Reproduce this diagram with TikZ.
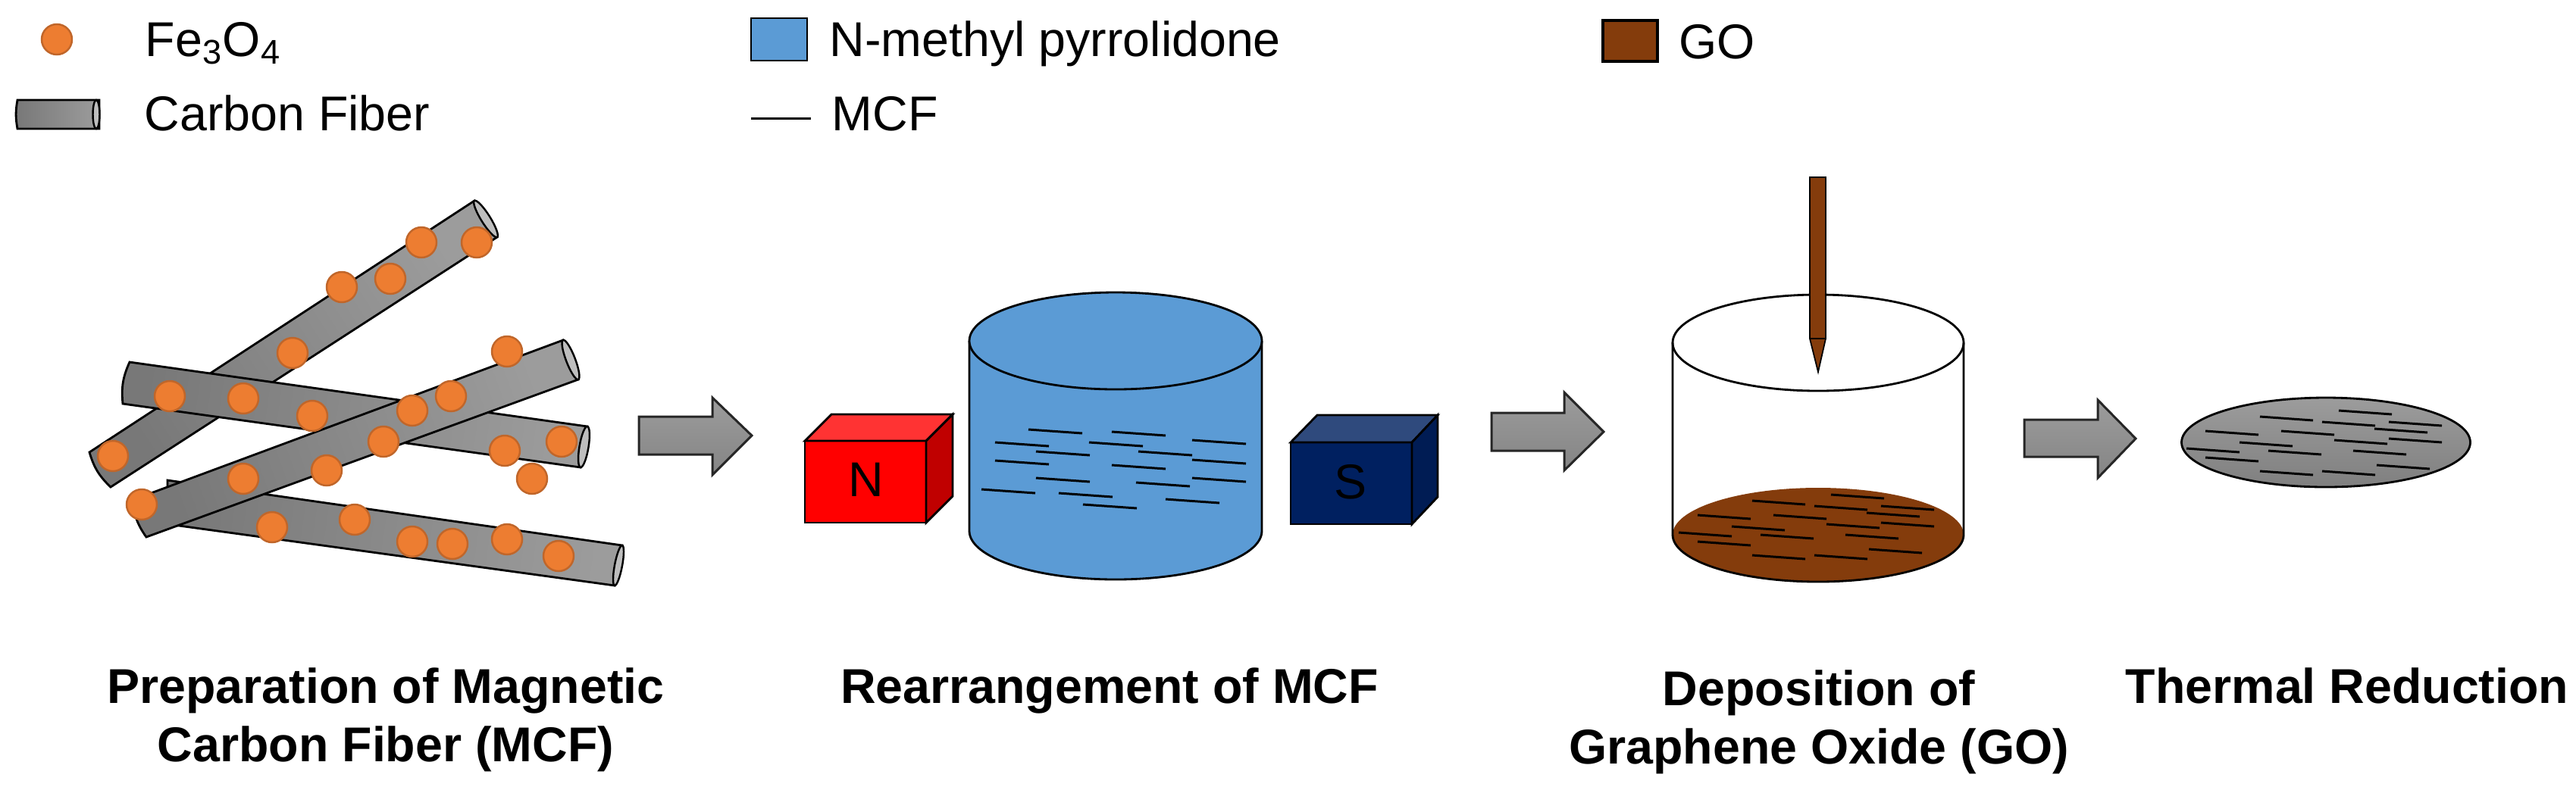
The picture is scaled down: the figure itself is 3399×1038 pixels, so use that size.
\documentclass[tikz,border=0pt]{standalone}
\usepackage{fontspec}
\setmainfont{Liberation Sans}
\definecolor{feorange}{HTML}{ED7D31}
\definecolor{feedge}{HTML}{C0662A}
\definecolor{nmpblue}{HTML}{5B9BD5}
\definecolor{gobrown}{HTML}{843C0C}
\definecolor{fibdark}{HTML}{787878}
\definecolor{fiblight}{HTML}{9C9C9C}
\definecolor{fibend}{HTML}{BEBEBE}
\definecolor{northfront}{HTML}{FF0000}
\definecolor{northtop}{HTML}{FF3333}
\definecolor{northside}{HTML}{C00000}
\definecolor{southfront}{HTML}{002060}
\definecolor{southtop}{HTML}{2F4A7D}
\definecolor{southside}{HTML}{001C54}
\tikzset{
	fe/.style={circle, fill=feorange, draw=feedge, line width=0.7pt, minimum size=0.4cm, inner sep=0pt},
	fibre/.style={draw=black, line width=0.8pt, left color=fibdark, right color=fiblight},
	fibretip/.style={draw=black, line width=0.7pt, fill=fibend},
	flow/.style={draw=black!85, line width=0.85pt, top color=fiblight, bottom color=black!48},
	mcf/.style={draw=black, line width=0.85pt},
	vessel/.style={draw=black, line width=0.8pt},
	legtext/.style={anchor=base west, inner sep=0pt, font=\fontsize{18.35}{21.9}\selectfont},
	steptext/.style={anchor=base, inner sep=0pt, align=center, font=\fontsize{18.35}{21.9}\selectfont\bfseries},
	poletext/.style={anchor=base, inner sep=0pt, font=\fontsize{18.35}{21.9}\selectfont},
}
\begin{document}
\begin{tikzpicture}[x=0.01cm, y=-0.01cm]
	\useasboundingbox (0,0) rectangle (3399,1038);

	% legend
	\node[fe] (legfe) at (75,52) {};
	\node[legtext] (legfetext) at (191,74) {Fe\textsubscript{3}O\textsubscript{4}};
	\draw[fibre] (131,132) -- (23,132) to[bend right=10] (23,170) -- (131,170) -- cycle;
	\draw[fibretip] (127,151) ellipse [x radius=4.5, y radius=19];
	\node[legtext] (legfibre) at (190,172) {Carbon Fiber};
	\draw[vessel, fill=nmpblue] (991,24) rectangle (1065,80);
	\node[legtext] (legnmp) at (1094,74) {N-methyl pyrrolidone};
	\draw[mcf] (991,156) -- (1070,156);
	\node[legtext] (legmcf) at (1097,172) {MCF};
	\draw[vessel, line width=0.9pt, fill=gobrown] (2115,27) rectangle (2187,81);
	\node[legtext] (leggo) at (2215,77) {GO};

	% carbon fibres
	\draw[fibre, shading angle=82] (821,720) -- (221,634) to[bend left=15] (207,690) -- (811,773) -- cycle;
	\draw[fibretip] (816,746.5) ellipse [x radius=27, y radius=5, rotate=79.3];
	\draw[fibre, shading angle=123] (626,265) -- (656,313) -- (146,643) to[bend left=15] (118,597) -- cycle;
	\draw[fibretip] (641,289) ellipse [x radius=28.3, y radius=6, rotate=-58];
	\draw[fibre, shading angle=82] (775,563) -- (171,478) to[bend right=15] (162,533) -- (766,617) -- cycle;
	\draw[fibretip] (770.5,590) ellipse [x radius=27.4, y radius=6, rotate=80.5];
	\draw[fibre, shading angle=110] (743,449) -- (763,501) -- (193,709) to[bend left=15] (175,660) -- cycle;
	\draw[fibretip] (753,475) ellipse [x radius=27.9, y radius=6, rotate=-69];

	\node[fe] (f0) at (556,320) {};
	\node[fe] (f1) at (629,320) {};
	\node[fe] (f2) at (451,379) {};
	\node[fe] (f3) at (515,368) {};
	\node[fe] (f4) at (386,466) {};
	\node[fe] (f5) at (669,464) {};
	\node[fe] (f6) at (595,523) {};
	\node[fe] (f7) at (544,542) {};
	\node[fe] (f8) at (224,523) {};
	\node[fe] (f9) at (321,526) {};
	\node[fe] (f10) at (412,549) {};
	\node[fe] (f11) at (506,583) {};
	\node[fe] (f12) at (741,583) {};
	\node[fe] (f13) at (666,595) {};
	\node[fe] (f14) at (149,602) {};
	\node[fe] (f15) at (431,621) {};
	\node[fe] (f16) at (702,632) {};
	\node[fe] (f17) at (321,632) {};
	\node[fe] (f18) at (187,666) {};
	\node[fe] (f19) at (359,696) {};
	\node[fe] (f20) at (468,686) {};
	\node[fe] (f21) at (544,715) {};
	\node[fe] (f22) at (597,718) {};
	\node[fe] (f23) at (669,712) {};
	\node[fe] (f24) at (737,734) {};

	% flow arrows
	\draw[flow] (843,550) -- (940,550) -- (940,525) -- (992,575) -- (940,627) -- (940,600) -- (843,600) -- cycle;
	\draw[flow] (1968,545) -- (2064,545) -- (2064,518) -- (2116,570) -- (2064,621) -- (2064,595) -- (1968,595) -- cycle;
	\draw[flow] (2671,554) -- (2768,554) -- (2768,528) -- (2818,579) -- (2768,631) -- (2768,603) -- (2671,603) -- cycle;

	% magnets
	\draw[vessel, fill=northfront] (1062,582) rectangle (1222,690);
	\draw[vessel, fill=northtop] (1062,582) -- (1097,547) -- (1257,547) -- (1222,582) -- cycle;
	\draw[vessel, fill=northside] (1222,582) -- (1257,547) -- (1257,655) -- (1222,690) -- cycle;
	\node[poletext] (pn) at (1143,655) {N};
	\draw[vessel, fill=southfront] (1703,584) rectangle (1863,692);
	\draw[vessel, fill=southtop] (1703,584) -- (1738,548) -- (1897,548) -- (1863,584) -- cycle;
	\draw[vessel, fill=southside] (1863,584) -- (1897,548) -- (1897,656) -- (1863,692) -- cycle;
	\node[poletext] (ps) at (1782,658) {S};

	% first beaker
	\draw[vessel, fill=nmpblue] (1279,450) -- (1279,701) .. controls (1279,736) and (1365,765) .. (1472,765) .. controls (1579,765) and (1665,736) .. (1665,701) -- (1665,450);
	\draw[vessel, fill=nmpblue] (1472,450) ellipse [x radius=193, y radius=64];
	\draw[mcf] (1357,567) -- ++(71,5);
	\draw[mcf] (1467,570) -- ++(71,5);
	\draw[mcf] (1573,581) -- ++(71,5);
	\draw[mcf] (1313,584) -- ++(71,5);
	\draw[mcf] (1437,584) -- ++(71,5);
	\draw[mcf] (1367,596) -- ++(71,5);
	\draw[mcf] (1502,596) -- ++(71,5);
	\draw[mcf] (1573,607) -- ++(71,5);
	\draw[mcf] (1313,608) -- ++(71,5);
	\draw[mcf] (1467,614) -- ++(71,5);
	\draw[mcf] (1367,631) -- ++(71,5);
	\draw[mcf] (1499,637) -- ++(71,5);
	\draw[mcf] (1573,631) -- ++(71,5);
	\draw[mcf] (1295,646) -- ++(71,5);
	\draw[mcf] (1397,651) -- ++(71,5);
	\draw[mcf] (1538,659) -- ++(71,5);
	\draw[mcf] (1429,666) -- ++(71,5);

	% second beaker
	\fill[gobrown] (2399,706) ellipse [x radius=192, y radius=62];
	\draw[vessel] (2207,452) -- (2207,706) .. controls (2207,740) and (2293,768) .. (2399,768) .. controls (2505,768) and (2591,740) .. (2591,706) -- (2591,452);
	\draw[vessel] (2399,452.5) ellipse [x radius=192, y radius=63.5];
	\draw[mcf] (2416,653) -- ++(70,5);
	\draw[mcf] (2312,661) -- ++(70,5);
	\draw[mcf] (2394,668) -- ++(70,5);
	\draw[mcf] (2482,668) -- ++(70,5);
	\draw[mcf] (2463,677) -- ++(70,5);
	\draw[mcf] (2240,680) -- ++(70,5);
	\draw[mcf] (2340,680) -- ++(70,5);
	\draw[mcf] (2410,692) -- ++(70,5);
	\draw[mcf] (2482,690) -- ++(70,5);
	\draw[mcf] (2285,695) -- ++(70,5);
	\draw[mcf] (2215,703) -- ++(70,5);
	\draw[mcf] (2323,706) -- ++(70,5);
	\draw[mcf] (2435,706) -- ++(70,5);
	\draw[mcf] (2240,715) -- ++(70,5);
	\draw[mcf] (2466,725) -- ++(70,5);
	\draw[mcf] (2312,733) -- ++(70,5);
	\draw[mcf] (2394,733) -- ++(70,5);

	% needle
	\draw[draw=black, line width=0.5pt, fill=gobrown] (2388,234) -- (2409,234) -- (2409,447) -- (2399,491) -- (2388,447) -- cycle;
	\draw[draw=black, line width=0.8pt] (2388,234) -- (2409,234);
	\draw[draw=black, line width=0.8pt] (2388,447) -- (2409,447);

	% reduced film
	\draw[vessel, top color=fiblight, bottom color=black!50] (3069,584) ellipse [x radius=190.5, y radius=59];
	\draw[mcf] (3086,542) -- ++(70,5);
	\draw[mcf] (2982,550) -- ++(70,5);
	\draw[mcf] (3064,557) -- ++(70,5);
	\draw[mcf] (3152,557) -- ++(70,5);
	\draw[mcf] (3133,566) -- ++(70,5);
	\draw[mcf] (2910,569) -- ++(70,5);
	\draw[mcf] (3010,569) -- ++(70,5);
	\draw[mcf] (3080,581) -- ++(70,5);
	\draw[mcf] (3152,579) -- ++(70,5);
	\draw[mcf] (2955,584) -- ++(70,5);
	\draw[mcf] (2885,592) -- ++(70,5);
	\draw[mcf] (2993,595) -- ++(70,5);
	\draw[mcf] (3105,595) -- ++(70,5);
	\draw[mcf] (2910,604) -- ++(70,5);
	\draw[mcf] (3136,614) -- ++(70,5);
	\draw[mcf] (2982,622) -- ++(70,5);
	\draw[mcf] (3064,622) -- ++(70,5);

	% step labels
	\node[steptext] (s0) at (509,1005) {Preparation of Magnetic\\ Carbon Fiber (MCF)};
	\node[steptext] (s1) at (1464,928) {Rearrangement of MCF};
	\node[steptext] (s2) at (2400,1008) {Deposition of\\ Graphene Oxide (GO)};
	\node[steptext] (s3) at (3097,928) {Thermal Reduction};
\end{tikzpicture}
\end{document}
